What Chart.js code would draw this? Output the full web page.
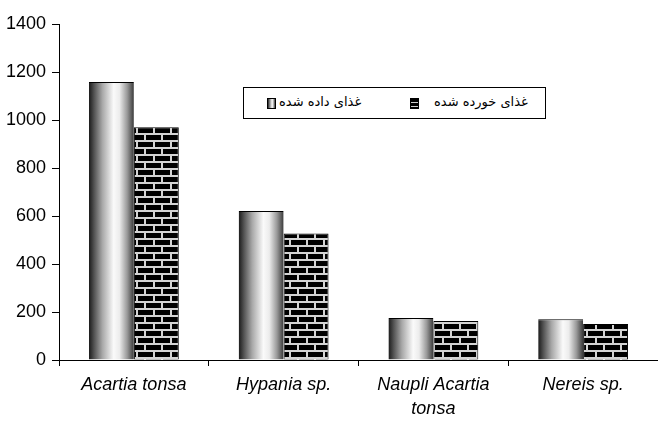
<!DOCTYPE html>
<html>
<head>
<meta charset="utf-8">
<script src="https://cdn.jsdelivr.net/npm/chart.js@4.4.0/dist/chart.umd.min.js"></script>
<style>
  html, body { margin: 0; padding: 0; background: #fff; }
  #wrap { position: relative; width: 658px; height: 421px; overflow: hidden; }
  #legend {
    position: absolute; left: 243px; top: 87px; width: 301px; height: 30px;
    border: 1px solid #000; background: #fff;
    font-family: "DejaVu Sans", Arial, sans-serif; font-size: 13px; color: #000;
  }
  #legend .ico { position: absolute; top: 10px; width: 7px; height: 9px; border: 1px solid #000; }
  #legend .txt { position: absolute; top: 6px; direction: rtl; white-space: nowrap; }
  .ico.fed { background: linear-gradient(to right, #222, #888 25%, #fff 60%, #999 85%, #333); }
  .ico.eaten { background: repeating-linear-gradient(to bottom, #000 0, #000 3px, #ccc 3px, #ccc 4px); }
</style>
</head>
<body>
<div id="wrap">
  <canvas id="chart" width="658" height="421"></canvas>
  <div id="legend"></div>
</div>
<script>
// -----------------------------
// Data
// -----------------------------
const categories = [["Acartia tonsa"], ["Hypania sp."], ["Naupli Acartia", "tonsa"], ["Nereis sp."]];
const fedValues = [1158, 621, 175, 170];
const eatenValues = [970, 527, 162, 150];
const seriesNames = ["غذای داده شده", "غذای خورده شده"];
const yMax = 1400;
const yStep = 200;

const groupShare = 0.6;

// -----------------------------
// Fills
// -----------------------------
function brickPattern() {
  const c = document.createElement("canvas");
  c.width = 17;
  c.height = 14;
  const g = c.getContext("2d");
  g.fillStyle = "#000";
  g.fillRect(0, 0, 17, 14);
  g.fillStyle = "#d4d4d4";
  g.fillRect(0, 0, 17, 2);
  g.fillRect(0, 7, 17, 2);
  g.fillRect(0, 0, 2, 7);
  g.fillRect(8, 7, 2, 7);
  return g.createPattern(c, "repeat");
}

function cylinderFill(ctx) {
  const chart = ctx.chart;
  const xs = chart.scales.x;
  if (!xs || ctx.type !== "data") return "#ccc";
  const center = xs.getPixelForValue(ctx.dataIndex);
  const barW = xs.width / categories.length * groupShare / 2;
  if (!isFinite(center) || !isFinite(barW) || barW <= 0) return "#ccc";
  const g = chart.ctx.createLinearGradient(center - barW, 0, center, 0);
  g.addColorStop(0, "#1a1a1a");
  g.addColorStop(0.12, "#555");
  g.addColorStop(0.3, "#a8a8a8");
  g.addColorStop(0.55, "#fafafa");
  g.addColorStop(0.68, "#ececec");
  g.addColorStop(0.85, "#9a9a9a");
  g.addColorStop(1, "#3a3a3a");
  return g;
}

// -----------------------------
// Chart
// -----------------------------
document.addEventListener("DOMContentLoaded", () => {
  const ctx = document.getElementById("chart");

  const chart = new Chart(ctx, {
    type: "bar",
    data: {
      labels: categories,
      datasets: [
        {
          label: seriesNames[0],
          data: fedValues,
          backgroundColor: cylinderFill,
          borderColor: "#000",
          borderWidth: { top: 1, left: 0, right: 0, bottom: 0 }
        },
        {
          label: seriesNames[1],
          data: eatenValues,
          backgroundColor: brickPattern(),
          borderColor: "#000",
          borderWidth: 1
        }
      ]
    },
    options: {
      responsive: false,
      animation: false,
      layout: { padding: { top: 24, left: 0, right: -5, bottom: 0 } },
      datasets: { bar: { categoryPercentage: groupShare, barPercentage: 1 } },
      plugins: {
        legend: { display: false },
        tooltip: { enabled: false }
      },
      scales: {
        x: {
          grid: { offset: true, drawOnChartArea: false, color: "#000", tickLength: 6 },
          border: { color: "#000" },
          ticks: {
            color: "#000",
            maxRotation: 0,
            padding: 7,
            font: { family: "Liberation Sans, Arial, sans-serif", size: 18, style: "italic", lineHeight: 1.35 }
          },
          afterFit: s => { s.height = 61; }
        },
        y: {
          min: 0,
          max: yMax,
          ticks: {
            stepSize: yStep,
            color: "#000",
            padding: 6,
            font: { family: "Liberation Sans, Arial, sans-serif", size: 18 },
            callback: v => String(v)
          },
          grid: { drawOnChartArea: false, color: "#000", tickLength: 7 },
          border: { color: "#000" },
          afterFit: s => { s.width = 59; }
        }
      }
    }
  });
  // second pass so the gradient sees the laid-out scale
  chart.update("none");

  // Legend box inside the plot
  const legend = document.getElementById("legend");
  const items = [
    { cls: "fed", name: seriesNames[0], ico: 23, txt: 35 },
    { cls: "eaten", name: seriesNames[1], ico: 166, txt: 190 }
  ];
  items.forEach(it => {
    const ico = document.createElement("span");
    ico.className = "ico " + it.cls;
    ico.style.left = it.ico + "px";
    const txt = document.createElement("span");
    txt.className = "txt";
    txt.style.left = it.txt + "px";
    txt.textContent = it.name;
    legend.appendChild(ico);
    legend.appendChild(txt);
  });
});
</script>
</body>
</html>
